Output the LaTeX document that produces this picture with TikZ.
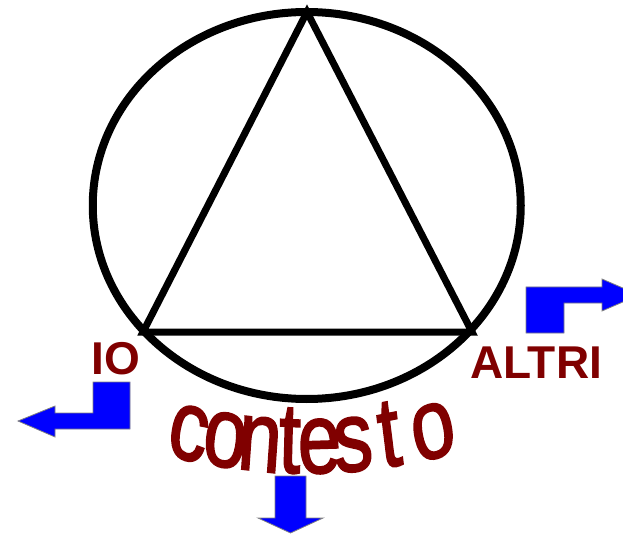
\documentclass[tikz,border=0pt]{standalone}
\usepackage{fontspec}
\setmainfont{Liberation Sans}
\newfontfamily\wordfont[BoldFont={Liberation Sans}, BoldFeatures={FakeBold=2}]{Liberation Sans}
\usetikzlibrary{positioning}
\definecolor{darkred}{RGB}{128,0,0}

\begin{document}
\begin{tikzpicture}[
    x=1pt, y=-1pt,
    ring/.style={draw, line width=8pt},
    edge/.style={draw, line width=7pt},
    tag/.style={text=darkred, font=\fontsize{46}{46}\selectfont\bfseries, inner sep=0pt},
    letter/.style={text=darkred, font=\wordfont\fontsize{100}{100}\selectfont\bfseries, inner sep=0pt, anchor=base, xscale=0.78},
    blockarrow/.style={fill=blue, draw=gray, line width=0.8pt}
]
\clip (0,0) rectangle (623,534);

% Circle and triangle
\draw[ring] (306.75,205.5) ellipse [x radius=214, y radius=193.5];
\coordinate (top) at (307,12);
\coordinate (left) at (143,332);
\coordinate (right) at (472,332);
\draw[edge] (top) -- (right) -- (left) -- cycle;

% Labels
\node[tag] (io) at (116,358.5) {IO};
\node[tag] (altri) at (536,363) {ALTRI};

% Curved word along an arc below the circle
\foreach \ch/\xx in {c/184, o/222, n/258, t/289, e/320, s/355, t/393, o/438}{
    \pgfmathsetmacro{\ang}{asin((\xx-307)/550)}
    \node[letter, rotate=\ang] at ({307+550*sin(\ang)},{-77+550*cos(\ang)}) {\ch};
}

% Blue arrows
\draw[blockarrow] (130,382) -- (93,382) -- (93,413) -- (55,413) -- (55,406) -- (18,421)
    -- (55,437) -- (55,429) -- (130,429) -- cycle;
\draw[blockarrow] (526,333) -- (526,287) -- (602,287) -- (602,279) -- (639,295)
    -- (602,311) -- (602,303) -- (564,303) -- (564,333) -- cycle;
\draw[blockarrow] (275,476) -- (306,476) -- (306,518) -- (323,518) -- (290.5,533)
    -- (258,518) -- (275,518) -- cycle;

\end{tikzpicture}
\end{document}
